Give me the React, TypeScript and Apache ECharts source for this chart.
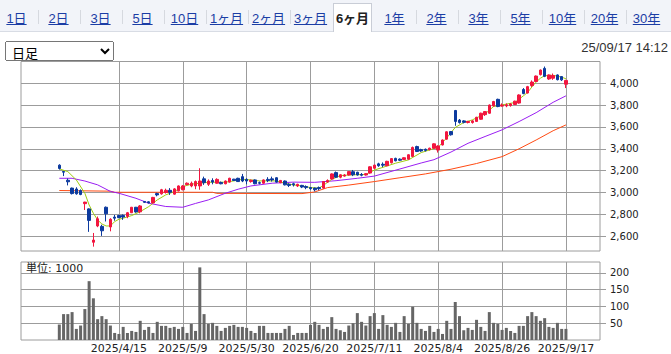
import React, { useEffect, useRef } from 'react';
import * as echarts from 'echarts';

// ---------- data ----------
const HOLIDAYS = ['2025/3/20', '2025/4/29', '2025/5/5', '2025/5/6', '2025/7/21', '2025/8/11', '2025/9/15', '2025/9/23'];
const START_DATE = [2025, 3, 12];
const SLOT_COUNT = 137;
const FIRST_CANDLE_DATE = '2025/3/26';
const tickDates = ['2025/4/15', '2025/5/9', '2025/5/30', '2025/6/20', '2025/7/11', '2025/8/4', '2025/8/26', '2025/9/17'];
const priceLabels = [2600, 2800, 3000, 3200, 3400, 3600, 3800, 4000];
const volumeLabels = [50, 100, 150, 200];
const tabs = ['1日', '2日', '3日', '5日', '10日', '1ヶ月', '2ヶ月', '3ヶ月', '6ヶ月', '1年', '2年', '3年', '5年', '10年', '20年', '30年'];
const activeTab = '6ヶ月';
const timestamp = '25/09/17 14:12';
const unitText = '単位: 1000';

// [open, close, low, high]
const candles = [
  [3250, 3220, 3210, 3258], [3192, 3186, 3150, 3195], [3112, 3098, 3065, 3128], [3040, 2990, 2982, 3045],
  [3032, 2988, 2980, 3048], [3018, 2982, 2975, 3028], [2898, 2912, 2840, 2915], [2850, 2745, 2640, 2855],
  [2545, 2565, 2505, 2630], [2694, 2760, 2683, 2780], [2690, 2650, 2603, 2705], [2865, 2805, 2735, 2872],
  [2685, 2755, 2645, 2765], [2775, 2765, 2742, 2795], [2790, 2770, 2765, 2795], [2790, 2775, 2750, 2800],
  [2782, 2815, 2765, 2822], [2815, 2865, 2812, 2868], [2865, 2822, 2815, 2868], [2823, 2877, 2810, 2885],
  [2918, 2910, 2905, 2920], [2915, 2905, 2900, 2920], [2905, 2955, 2900, 2960], [2990, 2978, 2965, 2998],
  [2988, 3025, 2980, 3033], [3000, 3020, 2990, 3035], [3020, 3002, 2978, 3040], [2985, 3033, 2980, 3040],
  [3015, 3060, 3010, 3065], [3025, 3060, 3020, 3068], [3072, 3085, 3068, 3092], [3060, 3085, 3048, 3100],
  [3060, 3100, 3030, 3110], [3060, 3105, 3025, 3222], [3125, 3090, 3070, 3145], [3075, 3105, 3060, 3120],
  [3110, 3095, 3075, 3130], [3085, 3120, 3080, 3130], [3092, 3080, 3075, 3100], [3080, 3105, 3075, 3110],
  [3095, 3130, 3090, 3135], [3122, 3110, 3105, 3125], [3130, 3100, 3098, 3135], [3145, 3105, 3095, 3170],
  [3120, 3105, 3075, 3130], [3100, 3112, 3090, 3118], [3115, 3080, 3075, 3120], [3090, 3085, 3075, 3100],
  [3085, 3115, 3080, 3120], [3120, 3110, 3095, 3140], [3125, 3115, 3100, 3145], [3135, 3095, 3090, 3140],
  [3090, 3110, 3085, 3115], [3105, 3070, 3065, 3110], [3075, 3065, 3050, 3085], [3080, 3070, 3055, 3090],
  [3060, 3075, 3050, 3080], [3065, 3050, 3040, 3070], [3055, 3045, 3030, 3065], [3045, 3035, 3025, 3050],
  [3040, 3025, 3010, 3045], [3045, 3035, 3020, 3055], [3040, 3100, 3035, 3105], [3095, 3110, 3090, 3120],
  [3124, 3170, 3118, 3175], [3182, 3140, 3135, 3192], [3140, 3162, 3130, 3168], [3150, 3160, 3145, 3168],
  [3160, 3191, 3155, 3196], [3190, 3162, 3150, 3206], [3185, 3160, 3155, 3190], [3165, 3158, 3148, 3178],
  [3160, 3172, 3155, 3178], [3178, 3235, 3172, 3240], [3222, 3250, 3215, 3255], [3262, 3245, 3235, 3272],
  [3258, 3250, 3232, 3275], [3245, 3285, 3240, 3290], [3272, 3310, 3265, 3315], [3312, 3290, 3285, 3318],
  [3305, 3295, 3288, 3312], [3302, 3318, 3298, 3322], [3305, 3345, 3300, 3350], [3330, 3412, 3325, 3420],
  [3420, 3375, 3370, 3428], [3392, 3380, 3372, 3400], [3395, 3385, 3375, 3402], [3392, 3405, 3385, 3410],
  [3405, 3445, 3400, 3450], [3388, 3425, 3365, 3432], [3435, 3480, 3430, 3485], [3488, 3555, 3482, 3560],
  [3557, 3528, 3520, 3562], [3750, 3650, 3610, 3755], [3662, 3640, 3630, 3672], [3655, 3642, 3632, 3662],
  [3640, 3650, 3632, 3655], [3640, 3655, 3630, 3662], [3650, 3688, 3645, 3692], [3670, 3725, 3665, 3730],
  [3712, 3740, 3700, 3745], [3725, 3800, 3720, 3805], [3792, 3832, 3785, 3838], [3852, 3786, 3780, 3858],
  [3790, 3800, 3785, 3815], [3792, 3802, 3780, 3815], [3795, 3810, 3785, 3818], [3805, 3835, 3800, 3840],
  [3818, 3892, 3812, 3898], [3942, 3905, 3898, 3955], [3910, 3968, 3905, 3975], [3978, 4010, 3965, 4025],
  [4015, 4065, 4010, 4070], [4078, 4120, 4070, 4125], [4135, 4062, 4055, 4152], [4038, 4075, 4030, 4080],
  [4045, 4070, 4030, 4088], [4075, 4032, 4025, 4080], [4060, 4030, 4020, 4065], [3990, 4025, 3955, 4030],
];

// thousands of shares
const volumes = [
  46, 77, 77, 83, 33, 43, 92, 175, 124, 62, 71, 62, 43, 21, 18,
  39, 21, 27, 24, 57, 30, 39, 21, 54, 42, 42, 36, 39, 33, 39,
  21, 48, 27, 216, 77, 48, 51, 42, 27, 36, 42, 45, 39, 39, 36,
  27, 21, 42, 42, 21, 21, 21, 21, 33, 42, 15, 21, 21, 21, 45,
  54, 45, 33, 39, 68, 33, 29, 24, 43, 50, 80, 54, 43, 71, 80,
  33, 74, 45, 39, 51, 24, 71, 48, 99, 51, 33, 27, 42, 24, 33,
  18, 57, 33, 113, 71, 29, 36, 30, 60, 39, 27, 83, 51, 48, 30,
  36, 27, 21, 42, 42, 71, 83, 71, 57, 65, 39, 36, 51, 33, 33,
];

// moving averages: [day number from first candle, value]
const maShort = [
  [0, 3216], [2, 3191], [4, 3115], [6, 2993], [7, 2886], [8, 2810], [9, 2749], [10, 2712], [11, 2694], [12, 2694],
  [13, 2734], [14, 2755], [15, 2765], [17, 2789], [19, 2825], [21, 2871], [23, 2932], [25, 2978], [27, 3008], [29, 3054],
  [31, 3076], [33, 3085], [35, 3094], [37, 3094], [39, 3094], [41, 3106], [43, 3121], [45, 3115], [47, 3106], [49, 3106],
  [51, 3106], [53, 3085], [55, 3069], [57, 3060], [59, 3045], [61, 3040], [62, 3065], [64, 3120], [66, 3155], [69, 3162],
  [72, 3165], [74, 3205], [77, 3243], [79, 3268], [82, 3298], [85, 3365], [89, 3414], [91, 3500], [93, 3595], [95, 3640],
  [97, 3664], [100, 3719], [102, 3786], [104, 3801], [107, 3823], [109, 3884], [110, 3915], [111, 3965], [112, 4010],
  [113, 4045], [114, 4068], [116, 4072], [118, 4055], [119, 4040],
];
const maMid = [
  [0, 3130], [3, 3130], [6, 3105], [9, 3070], [12, 3010], [14, 2993], [18, 2947], [21, 2902], [25, 2872], [29, 2865],
  [32, 2900], [35, 2932], [39, 2993], [42, 3030], [45, 3060], [50, 3085], [55, 3095], [60, 3093], [65, 3108], [70, 3130],
  [74, 3150], [80, 3215], [85, 3270], [88, 3300], [92, 3370], [96, 3450], [100, 3512], [104, 3573], [108, 3649],
  [112, 3730], [116, 3825], [119, 3884],
];
const maLong = [
  [0, 3018], [12, 3012], [13, 3002], [36, 3002], [37, 2992], [57, 2990], [60, 3005], [63, 3045], [68, 3068], [74, 3100],
  [80, 3135], [86, 3170], [92, 3213], [98, 3265], [104, 3328], [108, 3400], [112, 3480], [116, 3565], [119, 3618],
];

// ---------- helpers ----------
function buildDates(): string[] {
  const out: string[] = [];
  const d = new Date(START_DATE[0], START_DATE[1] - 1, START_DATE[2]);
  while (out.length < SLOT_COUNT) {
    const s = `${d.getFullYear()}/${d.getMonth() + 1}/${d.getDate()}`;
    const wd = d.getDay();
    if (wd !== 0 && wd !== 6 && HOLIDAYS.indexOf(s) < 0) out.push(s);
    d.setDate(d.getDate() + 1);
  }
  return out;
}

const UP = '#f2163f';
const DOWN = '#0c3a9e';
const GRID = '#9c9c9c';
const LABEL = '#222';

function Chart() {
  const ref = useRef<HTMLDivElement>(null);
  useEffect(() => {
    if (!ref.current) return;
    const chart = echarts.init(ref.current, undefined, { renderer: 'svg' });
    const dates = buildDates();
    const first = dates.indexOf(FIRST_CANDLE_DATE);
    const tickIdx = new Set(tickDates.map((t) => dates.indexOf(t)));
    const isTick = (i: number) => tickIdx.has(i);

    const candleData = dates.map((_, i) => {
      const k = i - first;
      return k >= 0 && k < candles.length ? candles[k] : '-';
    });
    const volData = dates.map((_, i) => {
      const k = i - first;
      return k >= 0 && k < volumes.length ? volumes[k] : '-';
    });
    const lineData = (pairs: number[][]) => {
      const arr: (number | null)[] = dates.map(() => null);
      pairs.forEach(([k, v]) => { arr[first + k] = v; });
      return arr;
    };
    const maSeries = (pairs: number[][], color: string) => ({
      type: 'line',
      xAxisIndex: 0,
      yAxisIndex: 0,
      data: lineData(pairs),
      connectNulls: true,
      symbol: 'none',
      lineStyle: { color, width: 1 },
      silent: true,
      z: 3,
    });

    chart.setOption({
      animation: false,
      backgroundColor: '#fff',
      grid: [
        { left: 21, top: 61.5, width: 579, height: 189.5, show: true, borderColor: GRID, borderWidth: 1 },
        { left: 21, top: 262, width: 579, height: 79.5, show: true, borderColor: GRID, borderWidth: 1 },
      ],
      graphic: [
        {
          type: 'text', right: 3, top: 41,
          style: { text: timestamp, fontSize: 13, fill: '#333', fontFamily: '"Liberation Sans", Arial, sans-serif' },
        },
        {
          type: 'text', left: 26, top: 263,
          style: { text: unitText, fontSize: 11, fill: '#222', fontFamily: '"DejaVu Sans", "Noto Sans CJK JP", sans-serif' },
          z: 10,
        },
      ],
      xAxis: [
        {
          type: 'category', gridIndex: 0, data: dates, boundaryGap: false,
          axisLine: { show: false }, axisTick: { show: false }, axisLabel: { show: false },
          splitLine: { show: true, interval: isTick, lineStyle: { color: GRID, width: 1 } },
        },
        {
          type: 'category', gridIndex: 1, data: dates, boundaryGap: false,
          axisLine: { show: false }, axisTick: { show: false },
          axisLabel: { show: true, interval: isTick, fontSize: 11, color: LABEL, margin: 3, fontFamily: '"DejaVu Sans", sans-serif' },
          splitLine: { show: true, interval: isTick, lineStyle: { color: GRID, width: 1 } },
        },
      ],
      yAxis: [
        {
          type: 'value', gridIndex: 0, position: 'right', min: 2465, max: 4198,
          splitNumber: 8, minInterval: 200, maxInterval: 200, scale: true,
          axisLine: { show: false },
          axisTick: { show: true, length: 6, lineStyle: { color: GRID }, customValues: priceLabels },
          axisLabel: {
            customValues: priceLabels, fontSize: 10, color: LABEL, margin: 10, fontFamily: '"DejaVu Sans", sans-serif',
            formatter: (v: number) => (priceLabels.indexOf(v) >= 0 ? v.toLocaleString('en-US') : ''),
          },
          splitLine: { show: true, lineStyle: { color: GRID, width: 1 } },
        },
        {
          type: 'value', gridIndex: 1, position: 'right', min: 0, max: 232, interval: 50,
          axisLine: { show: false },
          axisTick: { show: true, length: 6, lineStyle: { color: GRID }, customValues: volumeLabels },
          axisLabel: {
            customValues: volumeLabels, fontSize: 10, color: LABEL, margin: 10, fontFamily: '"DejaVu Sans", sans-serif',
            formatter: (v: number) => (volumeLabels.indexOf(v) >= 0 ? String(v) : ''),
          },
          splitLine: { show: true, lineStyle: { color: GRID, width: 1 } },
        },
      ],
      series: [
        maSeries(maLong, '#ff4a12'),
        maSeries(maMid, '#9a1ef2'),
        maSeries(maShort, '#9fcc10'),
        {
          type: 'candlestick', xAxisIndex: 0, yAxisIndex: 0, data: candleData, barWidth: 3,
          itemStyle: { color: UP, color0: DOWN, borderColor: UP, borderColor0: DOWN, borderWidth: 1 },
          z: 4, silent: true,
        },
        {
          type: 'bar', xAxisIndex: 1, yAxisIndex: 1, data: volData, barWidth: 3,
          itemStyle: { color: '#666' }, silent: true,
        },
      ],
    });
    return () => chart.dispose();
  }, []);
  return <div ref={ref} style={{ position: 'absolute', left: 0, top: 0, width: 671, height: 354 }} />;
}

export default function App() {
  const tabW = 42;
  const tabX0 = -4.5;
  return (
    <div style={{ position: 'absolute', left: 0, top: 0, width: 671, height: 354, overflow: 'hidden', background: '#fff' }}>
      <Chart />
      <div style={{ position: 'absolute', left: 0, top: 0, width: 671, height: 31, background: '#f2f4f9', borderBottom: '1px solid #d8dce4' }} />
      {tabs.map((t, i) => {
        const active = t === activeTab;
        const left = tabX0 + i * tabW;
        return (
          <React.Fragment key={t}>
            {active ? (
              <div style={{
                position: 'absolute', left: left + 1.5, top: 3, width: 39, height: 29, background: '#fff',
                border: '1px solid #c9cdd6', borderBottom: 'none', boxSizing: 'border-box',
              }} />
            ) : null}
            <div style={{
              position: 'absolute', left, top: 0, width: tabW, height: 31, display: 'flex', alignItems: 'center',
              justifyContent: 'center', paddingTop: 3, boxSizing: 'border-box',
              fontFamily: '"Liberation Sans", Arial, "Noto Sans CJK JP", sans-serif', fontSize: 13,
              color: active ? '#222' : '#1b3da5', fontWeight: active ? 'bold' : 'normal',
              textDecoration: active ? 'none' : 'underline',
            }}>{t}</div>
            {i < tabs.length - 1 && !active && tabs[i + 1] !== activeTab ? (
              <div style={{ position: 'absolute', left: left + tabW, top: 10, width: 1, height: 14, background: '#d6d9df' }} />
            ) : null}
          </React.Fragment>
        );
      })}
      <select defaultValue="日足" style={{
        position: 'absolute', left: 5, top: 41, width: 109, height: 20, fontSize: 13,
        fontFamily: '"Noto Sans CJK JP", sans-serif', padding: '0 2px', boxSizing: 'border-box',
      }}>
        <option value="日足">日足</option>
      </select>
    </div>
  );
}
